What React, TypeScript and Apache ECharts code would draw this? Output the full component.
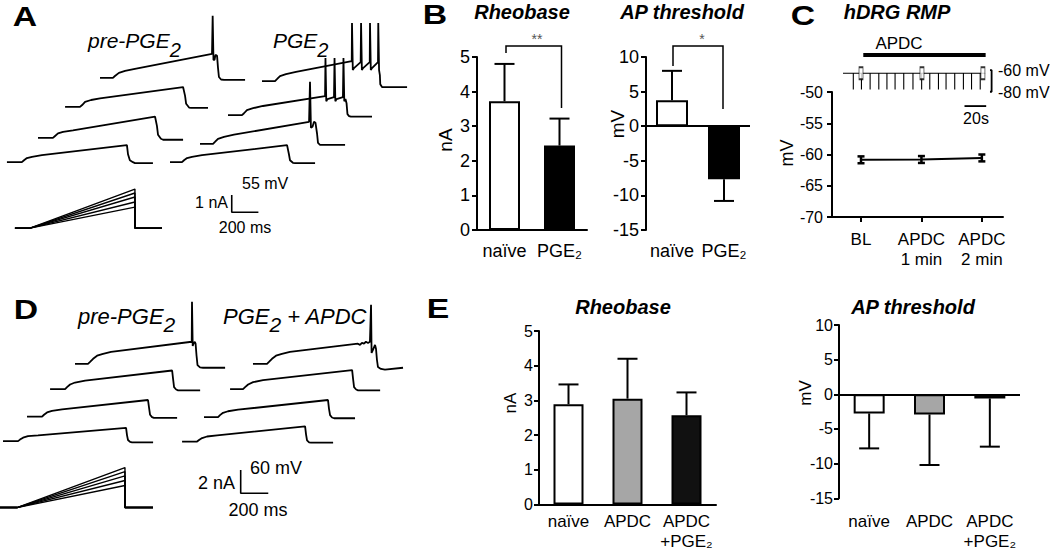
import React, { useEffect, useRef } from 'react';
import * as echarts from 'echarts';

const FONT = "'Liberation Sans', Arial, Helvetica, sans-serif";

// ---------------- Panel A : current-ramp recordings (ms, mV relative to sweep start) ----------------
const A_PRE_SWEEPS: number[][][] = [
  [[0,0],[97,0],[112,6],[142,16],[188,22],[262,29],[840,76],[845,197],[851,57],[859,57],[866,73],[878,70],[885,32],[892,3],[908,-5],[930,-6],[1088,-6]],
  [[0,0],[112,0],[128,6],[150,16],[195,22],[262,27],[885,63],[900,35],[908,10],[930,-2],[945,-3],[1072,-3]],
  [[0,0],[112,0],[128,6],[150,14],[188,19],[262,24],[878,67],[892,38],[900,10],[922,-3],[938,-6],[1088,-6]],
  [[0,0],[112,0],[128,6],[150,13],[188,17],[262,22],[900,54],[908,25],[922,6],[945,0],[960,-3],[1095,-3]],
];
const A_PGE_SWEEPS: number[][][] = [
  [[0,0],[98,0],[112,6],[135,16],[180,22],[255,29],[673,63],[675,184],[681,35],[690,41],[740,60],[743,184],[749,35],[758,41],[808,60],[810,184],[816,35],[825,41],[870,60],[872,184],[878,35],[884,19],[887,-10],[900,-19],[922,-19],[1088,-19]],
  [[0,0],[105,0],[120,6],[142,16],[188,22],[262,29],[728,60],[731,181],[737,44],[746,51],[795,57],[799,181],[805,44],[814,51],[862,57],[866,181],[872,44],[881,51],[889,38],[896,3],[908,-3],[922,-5],[1080,-5]],
  [[0,0],[98,0],[112,6],[135,16],[180,22],[255,29],[818,70],[825,197],[832,51],[844,54],[855,70],[866,67],[878,32],[885,3],[900,-3],[922,-3],[1088,-3]],
  [[0,0],[90,0],[105,6],[128,13],[165,17],[240,22],[878,54],[892,25],[900,6],[922,-2],[938,-3],[1088,-3]],
];
const A_STIM_PEAKS_NA = [1.21, 1.5, 1.79, 2.02, 2.25];

// ---------------- Panel D ----------------
const D_PRE_SWEEPS: number[][][] = [
  [[0,0],[94,0],[109,5],[131,13],[160,21],[203,26],[261,31],[846,57],[848,160],[853,46],[859,52],[868,57],[874,52],[881,21],[888,-3],[906,-9],[928,-10],[1088,-10]],
  [[0,0],[109,0],[123,5],[145,12],[181,17],[254,22],[885,48],[892,26],[899,5],[914,-1],[928,-3],[1088,-3]],
  [[0,0],[109,0],[123,5],[145,11],[181,15],[254,19],[877,43],[885,22],[892,5],[906,-1],[920,-3],[1088,-3]],
  [[0,0],[109,0],[123,4],[145,9],[181,13],[254,15],[892,34],[899,15],[906,3],[921,-2],[935,-3],[1088,-3]],
];
const D_APDC_SWEEPS: number[][][] = [
  [[0,0],[102,0],[116,5],[138,13],[167,21],[210,26],[268,31],[761,52],[776,49],[790,54],[805,52],[819,57],[834,54],[848,57],[856,152],[860,28],[870,36],[885,49],[892,39],[899,10],[906,-8],[928,-13],[957,-15],[1088,-10]],
  [[0,0],[94,0],[109,5],[131,12],[167,18],[239,23],[885,49],[892,26],[899,5],[914,-1],[928,-3],[1088,-3]],
  [[0,0],[102,0],[116,5],[138,11],[174,15],[247,19],[899,44],[906,22],[914,5],[928,-1],[943,-3],[1095,-3]],
  [[0,0],[109,0],[123,4],[145,9],[181,13],[254,16],[892,39],[899,18],[906,3],[921,-2],[935,-3],[1095,-3]],
];
const D_STIM_PEAKS_NA = [1.89, 2.32, 2.72, 3.09, 3.43];

// stimulus shape: time points and whether the point sits at the ramp peak
const A_STIM_T = [0, 113, 900, 900, 1103];
const D_STIM_T = [0, 123, 906, 906, 1109];
const STIM_AT_PEAK = [0, 0, 1, 0, 0];

// ---------------- Panel B ----------------
const B_CATEGORIES = ['naïve', 'PGE₂'];
const B_RHEOBASE_MEAN = [3.72, 2.44];
const B_RHEOBASE_SEM = [1.08, 0.78];
const B_THRESHOLD_MEAN = [3.75, -7.65];
const B_THRESHOLD_SEM = [4.25, 3.15];
const B_COLORS = ['#ffffff', '#000000'];

// ---------------- Panel C ----------------
const C_CATEGORIES = ['BL', 'APDC\n1 min', 'APDC\n2 min'];
const C_RMP_MEAN = [-60.85, -60.8, -60.55];
const C_RMP_SEM = [0.55, 0.55, 0.55];
const C_PULSE_TIMES = [9.5, 17, 25, 33, 40.5, 48, 56, 64.5, 72.5, 80, 88, 95, 103, 111, 118.5, 126.5];
const C_SAMPLE_TIMES = [16.6, 72.8, 129];
const C_APDC_PERIOD = [18.7, 131.5];
const C_REST_MV = -63;
const C_PULSE_MV = -78;
const C_TRACE_END_S = 131;

// ---------------- Panel E ----------------
const E_CATEGORIES = ['naïve', 'APDC', 'APDC\n+PGE₂'];
const E_RHEOBASE_MEAN = [2.89, 3.05, 2.57];
const E_RHEOBASE_SEM = [0.57, 1.15, 0.66];
const E_THRESHOLD_MEAN = [-2.75, -2.9, -0.6];
const E_THRESHOLD_SEM = [5.05, 7.3, 6.95];
const E_COLORS = ['#ffffff', '#a6a6a6', '#111111'];

// ---------------- layout constants ----------------
const A_OFF_PRE = [[750, -247], [488, -339], [285, -437], [52, -514]];
const A_OFF_PGE = [[1965, -257], [1710, -365], [1500, -456], [1275, -514]];
const A_OFF_STIM = [112, -723];
const A_MV_PER_NA = 55;
const D_OFF_PRE = [[544, -216], [363, -281], [196, -352], [22, -415]];
const D_OFF_APDC = [[1834, -216], [1668, -281], [1479, -353], [1320, -416]];
const D_OFF_STIM = [0, -586];
const D_MV_PER_NA = 30;

function traceSeries(gi: number, waves: number[][][], offs: number[][], width: number) {
  return waves.map((w, k) => ({
    type: 'line', xAxisIndex: gi, yAxisIndex: gi, silent: true, symbol: 'none', z: 3,
    data: w.map(([t, v]) => [t + offs[k][0], v + offs[k][1]]),
    lineStyle: { color: '#000', width },
  }));
}

function stimSeries(gi: number, times: number[], peaks: number[], off: number[], scale: number) {
  return peaks.map((p) => ({
    type: 'line', xAxisIndex: gi, yAxisIndex: gi, silent: true, symbol: 'none', z: 3,
    data: times.map((t, i) => [t + off[0], STIM_AT_PEAK[i] * p * scale + off[1]]),
    lineStyle: { color: '#000', width: 1.4 },
  }));
}

function errorSeries(gi: number, lows: number[], highs: number[], xs: number[], cap: number, width: number, bothCaps: boolean) {
  return {
    type: 'custom', xAxisIndex: gi, yAxisIndex: gi, silent: true, z: 5,
    data: xs.map((x, i) => [x, lows[i], highs[i]]),
    renderItem: (_p: any, api: any) => {
      const x = api.value(0);
      const a = api.coord([x, api.value(1)]);
      const b = api.coord([x, api.value(2)]);
      const st = { stroke: '#000', lineWidth: width };
      const ch: any[] = [
        { type: 'line', shape: { x1: a[0], y1: a[1], x2: b[0], y2: b[1] }, style: st },
        { type: 'line', shape: { x1: b[0] - cap / 2, y1: b[1], x2: b[0] + cap / 2, y2: b[1] }, style: st },
      ];
      if (bothCaps) ch.push({ type: 'line', shape: { x1: a[0] - cap / 2, y1: a[1], x2: a[0] + cap / 2, y2: a[1] }, style: st });
      return { type: 'group', children: ch };
    },
  };
}

function barSeries(gi: number, means: number[], colors: number[] | string[], barWidth: number, zeroLine: boolean) {
  const s: any = {
    type: 'bar', xAxisIndex: gi, yAxisIndex: gi, barWidth, silent: true, z: 2,
    data: means.map((v, i) => ({ value: v, itemStyle: { color: colors[i] } })),
    itemStyle: { borderColor: '#000', borderWidth: 2 },
  };
  if (zeroLine) {
    s.markLine = {
      silent: true, symbol: ['none', 'none'], label: { show: false },
      lineStyle: { color: '#000', width: 2, type: 'solid' }, data: [{ yAxis: 0 }],
    };
  }
  return s;
}

const axLine = { show: true, onZero: false, lineStyle: { color: '#000', width: 2 } };
const axTick = { show: true, length: 5, lineStyle: { color: '#000', width: 2 } };

function valueY(gi: number, min: number, max: number, interval: number, fontSize: number, margin: number) {
  return {
    type: 'value', gridIndex: gi, min, max, interval,
    axisLine: axLine, axisTick: axTick, splitLine: { show: false },
    axisLabel: { color: '#000', fontSize, fontFamily: FONT, margin },
  };
}

function catX(gi: number, data: string[], showLine: boolean, fontSize: number, margin: number) {
  return {
    type: 'category', gridIndex: gi, data,
    axisLine: { show: showLine, onZero: false, lineStyle: { color: '#000', width: 2 } },
    axisTick: { show: false }, splitLine: { show: false },
    axisLabel: { color: '#000', fontSize, fontFamily: FONT, margin, lineHeight: 20, interval: 0 },
  };
}

function hidden(gi: number, min: number, max: number) {
  return { type: 'value', gridIndex: gi, min, max, show: false, splitLine: { show: false } };
}

function txt(text: string, x: number, y: number, size: number, opts: any = {}) {
  const align = opts.align || 'center';
  return {
    type: 'text', x, y, rotation: opts.rotation || 0, scaleX: opts.scaleX || 1, silent: true, z: 10,
    style: {
      text, fill: opts.fill || '#000', fontSize: size, fontFamily: FONT,
      fontWeight: opts.weight || 'normal', fontStyle: opts.style || 'normal',
      align, textAlign: align, verticalAlign: 'middle', textVerticalAlign: 'middle',
      rich: opts.rich,
    },
  };
}

function poly(points: number[][], width: number) {
  return { type: 'polyline', silent: true, z: 10, shape: { points }, style: { stroke: '#000', lineWidth: width, fill: null } };
}

const subRich = (size: number) => ({
  a: { fontSize: size, fontStyle: 'italic', fontFamily: FONT, lineHeight: 20, verticalAlign: 'top' },
  s: { fontSize: size - 1, fontStyle: 'italic', fontFamily: FONT, lineHeight: 30, verticalAlign: 'bottom' },
});

export default function App() {
  const ref = useRef<HTMLDivElement>(null);
  useEffect(() => {
    document.body.style.margin = '0';
    const chart = echarts.init(ref.current!, null, { renderer: 'svg' });

    const grids = [
      { left: 0, top: 0, width: 420, height: 240 },
      { left: 0, top: 280, width: 420, height: 260 },
      { left: 477, top: 57, width: 110, height: 173 },
      { left: 646, top: 57, width: 104, height: 173 },
      { left: 832, top: 92, width: 171, height: 125 },
      { left: 843, top: 50, width: 160, height: 60.2 },
      { left: 539, top: 331, width: 177, height: 173.5 },
      { left: 839, top: 325, width: 181, height: 173.3 },
    ].map((g) => ({ ...g, containLabel: false, outerBoundsMode: 'none', show: false }));

    const xAxis: any[] = [
      hidden(0, 0, 3150),
      hidden(1, 0, 3045),
      catX(2, B_CATEGORIES, true, 18, 11),
      catX(3, B_CATEGORIES, false, 18, 11),
      {
        type: 'value', gridIndex: 4, min: -0.48, max: 2.35,
        axisLine: axLine, axisTick: { ...axTick, customValues: [0, 1, 2] }, splitLine: { show: false },
        axisLabel: {
          color: '#000', fontSize: 17, fontFamily: FONT, margin: 12, lineHeight: 20,
          customValues: [0, 1, 2], formatter: (v: number) => C_CATEGORIES[Math.round(v)] || '',
        },
      },
      hidden(5, 0, 147.5),
      catX(6, E_CATEGORIES, true, 17, 7),
      catX(7, E_CATEGORIES, false, 17, 13),
    ];
    const yAxis: any[] = [
      hidden(0, -760.8, 0),
      hidden(1, -669.5, 0),
      valueY(2, 0, 5, 1, 18, 7),
      valueY(3, -15, 10, 5, 18, 7),
      valueY(4, -70, -50, 5, 16, 9),
      hidden(5, -97, -41.5),
      valueY(6, 0, 5, 1, 16, 6),
      valueY(7, -15, 10, 5, 16, 6),
    ];

    const cTrace: number[][] = [[0, C_REST_MV]];
    C_PULSE_TIMES.forEach((t) => { cTrace.push([t, C_REST_MV], [t, C_PULSE_MV], [t, C_REST_MV]); });
    cTrace.push([C_TRACE_END_S, C_REST_MV]);

    const idx3 = [0, 1, 2];
    const idx2 = [0, 1];
    const series: any[] = [
      ...traceSeries(0, A_PRE_SWEEPS, A_OFF_PRE, 1.8),
      ...traceSeries(0, A_PGE_SWEEPS, A_OFF_PGE, 1.8),
      ...stimSeries(0, A_STIM_T, A_STIM_PEAKS_NA, A_OFF_STIM, A_MV_PER_NA),
      { type: 'line', xAxisIndex: 0, yAxisIndex: 0, symbol: 'none', silent: true, lineStyle: { color: '#000', width: 1.6 },
        data: [[1738, -618], [1738, -673], [1938, -673]] },
      ...traceSeries(1, D_PRE_SWEEPS, D_OFF_PRE, 1.8),
      ...traceSeries(1, D_APDC_SWEEPS, D_OFF_APDC, 1.8),
      ...stimSeries(1, D_STIM_T, D_STIM_PEAKS_NA, D_OFF_STIM, D_MV_PER_NA),
      { type: 'line', xAxisIndex: 1, yAxisIndex: 1, symbol: 'none', silent: true, lineStyle: { color: '#000', width: 1.6 },
        data: [[1745, -489], [1745, -549], [1945, -549]] },

      barSeries(2, B_RHEOBASE_MEAN, B_COLORS, 31, false),
      errorSeries(2, B_RHEOBASE_MEAN, B_RHEOBASE_MEAN.map((m, i) => m + B_RHEOBASE_SEM[i]), idx2, 20, 2, false),
      barSeries(3, B_THRESHOLD_MEAN, B_COLORS, 32, true),
      errorSeries(3, B_THRESHOLD_MEAN, B_THRESHOLD_MEAN.map((m, i) => m + Math.sign(m) * B_THRESHOLD_SEM[i]), idx2, 20, 2, false),

      { type: 'line', xAxisIndex: 4, yAxisIndex: 4, symbol: 'none', silent: true, z: 4,
        data: C_RMP_MEAN.map((v, i) => [i, v]), lineStyle: { color: '#000', width: 2 } },
      errorSeries(4, C_RMP_MEAN.map((m, i) => m - C_RMP_SEM[i]), C_RMP_MEAN.map((m, i) => m + C_RMP_SEM[i]), idx3, 7, 2.5, true),

      { type: 'line', xAxisIndex: 5, yAxisIndex: 5, symbol: 'none', silent: true, data: cTrace, lineStyle: { color: '#000', width: 1.1 } },
      { type: 'scatter', xAxisIndex: 5, yAxisIndex: 5, silent: true, symbol: 'rect', symbolSize: [4, 12], z: 6,
        data: C_SAMPLE_TIMES.map((t) => [t, C_REST_MV]), itemStyle: { color: '#fff', borderColor: '#000', borderWidth: 1.2 } },
      { type: 'line', xAxisIndex: 5, yAxisIndex: 5, symbol: 'none', silent: true,
        data: C_APDC_PERIOD.map((t) => [t, -46.2]), lineStyle: { color: '#000', width: 4 } },
      { type: 'line', xAxisIndex: 5, yAxisIndex: 5, symbol: 'none', silent: true,
        data: [[135.5, -60], [137, -60], [137, -80], [135.5, -80]], lineStyle: { color: '#000', width: 1.8 } },
      { type: 'line', xAxisIndex: 5, yAxisIndex: 5, symbol: 'none', silent: true,
        data: [[112, -93.2], [132, -93.2]], lineStyle: { color: '#000', width: 1.8 } },

      barSeries(6, E_RHEOBASE_MEAN, E_COLORS, 30, false),
      errorSeries(6, E_RHEOBASE_MEAN, E_RHEOBASE_MEAN.map((m, i) => m + E_RHEOBASE_SEM[i]), idx3, 0, 2, false),
      barSeries(7, E_THRESHOLD_MEAN, E_COLORS, 31, true),
      errorSeries(7, E_THRESHOLD_MEAN, E_THRESHOLD_MEAN.map((m, i) => m - E_THRESHOLD_SEM[i]), idx3, 0, 2, false),
    ];
    // caps for panel E error bars
    series[series.length - 3].renderItem = errorSeries(6, [], [], [], 20, 2, false).renderItem;
    series[series.length - 1].renderItem = errorSeries(7, [], [], [], 20, 2, false).renderItem;

    const letter = (t: string, x: number, y: number) => txt(t, x, y, 27, { weight: 'bold', scaleX: 1.25 });
    const title = (t: string, x: number, y: number) => txt(t, x, y, 20, { weight: 'bold', style: 'italic' });
    const rot = Math.PI / 2;

    const graphic: any[] = [
      letter('A', 25, 16), letter('B', 435, 14), letter('C', 803, 15), letter('D', 26, 309), letter('E', 438, 308),
      title('Rheobase', 522, 12), title('AP threshold', 682, 12), title('hDRG RMP', 897, 12),
      title('Rheobase', 623, 307), title('AP threshold', 913, 307),
      txt('{a|pre-PGE}{s|2}', 88, 45, 21, { align: 'left', rich: subRich(21) }),
      txt('{a|PGE}{s|2}', 273, 45, 21, { align: 'left', rich: subRich(21) }),
      txt('{a|pre-PGE}{s|2}', 78, 320, 22, { align: 'left', rich: subRich(22) }),
      txt('{a|PGE}{s|2}{a| + APDC}', 223, 320, 22, { align: 'left', rich: subRich(22) }),
      txt('55 mV', 242, 183, 16, { align: 'left' }),
      txt('1 nA', 228, 202, 16, { align: 'right' }),
      txt('200 ms', 245, 227, 16),
      txt('60 mV', 250, 468, 18, { align: 'left' }),
      txt('2 nA', 235, 483, 18, { align: 'right' }),
      txt('200 ms', 258, 510, 18),
      txt('nA', 445, 140, 19, { rotation: rot }),
      txt('mV', 617, 124, 19, { rotation: rot }),
      txt('mV', 787, 153, 18, { rotation: rot }),
      txt('nA', 510, 403, 17, { rotation: rot }),
      txt('mV', 805, 393, 17, { rotation: rot }),
      poly([[506, 53], [506, 46], [561.5, 46], [561.5, 108]], 1.5),
      poly([[673, 66], [673, 46], [723, 46], [723, 109]], 1.5),
      txt('**', 537, 39, 14, { fill: '#555' }),
      txt('*', 702, 39, 14, { fill: '#555' }),
      txt('APDC', 899, 43, 17),
      txt('-60 mV', 998, 70, 16, { align: 'left' }),
      txt('-80 mV', 998, 92, 16, { align: 'left' }),
      txt('20s', 976, 118, 16),
    ];

    chart.setOption({
      animation: false,
      backgroundColor: '#ffffff',
      textStyle: { fontFamily: FONT },
      grid: grids,
      xAxis,
      yAxis,
      series,
      graphic,
    });
    return () => chart.dispose();
  }, []);
  return <div ref={ref} style={{ width: 1050, height: 552 }} />;
}
